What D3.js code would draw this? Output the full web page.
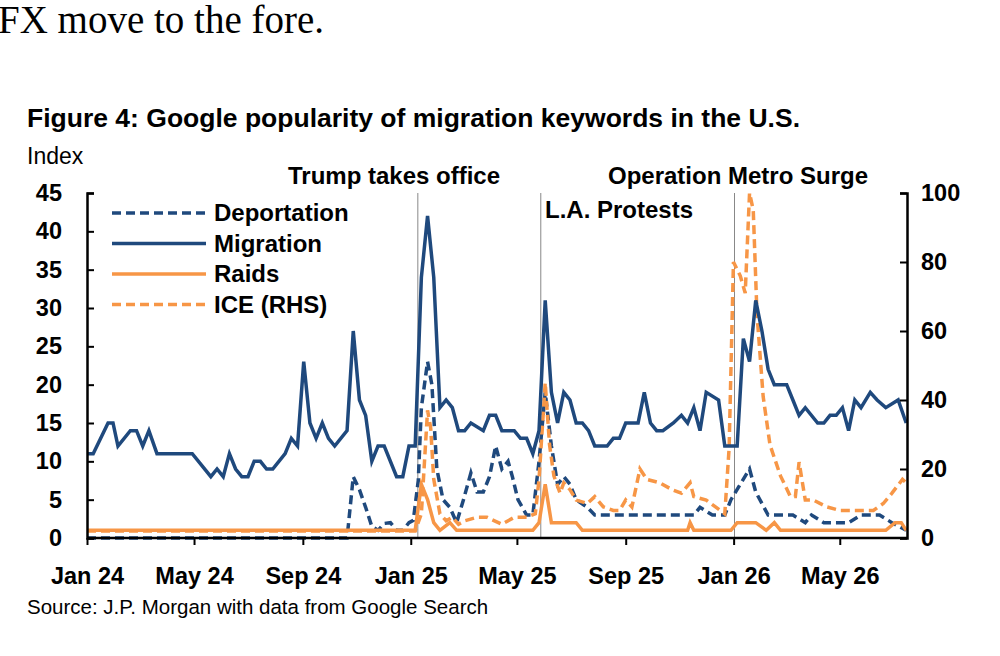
<!DOCTYPE html>
<html><head><meta charset="utf-8">
<script src="https://cdn.jsdelivr.net/npm/d3@7"></script>
<style>body{margin:0;background:#fff}svg{display:block}text{font-family:"Liberation Sans",Arial,sans-serif}</style>
</head><body><svg id="c" width="1000" height="656"></svg>
<script>
// Week index from 2024-01-01, value
const migrationW=[0,1,3.4,4.2,5,7,8,9,10,11.3,17,20,21,22,23,24,25,26,27,28,29,30,32,33,34,35,36,37,38,39,40,42,43,44,45,46,47,48,50,51,52,53,54,55,56,57,58,59,60,61,62,64,65,66,67,69,70,71,72,73,74,75,76,77,78,79,80,81,82,84,85,86,87,89,90,91,92,93,94.7,96,97,98,99,100,102,103,105,106,107,108,109,110,111,113,114,115,116,118,119,120,121,122,123,124,125,126.5,127.6,129,131,132.3];
const migrationV=[11,11,15,15,12,14,14,12,14,11,11,8,9,8,11,9,8,8,10,10,9,9,11,13,12,23,15,13,15,13,12,14,27,18,16,10,12,12,8,8,12,12,34,42,34,17,18,17,14,14,15,14,16,16,14,14,13,13,11,14,31,19,15,19,18,15,15,14,12,12,13,13,15,15,19,15,14,14,15,16,15,17,14,19,18,12,12,26,23,31,27,22,20,20,18,16,17,15,15,16,16,17,14,18,17,19,18,17,18,15,11];
const deportW=[0,42,43,44,45,46,47,48,49,50,51,52,52.7,53.5,54,55,55.7,56.5,57.5,58.6,59.7,60.8,62,63,64,65,66,67,68,68.7,69.6,71,72,73,74,75,76,77,78,79,80.8,82,98,99,101,103,104,107,108,110,114,116,117,119,123,125,128,130,132.3];
const deportV=[0,0,8,6.3,4,1.5,1,1.9,2,1,1,2,2.3,7.5,17,23,20,9,5,4,2,5,8.5,6,6,8,12,9,10,8,5,3,3,10,19,12,7,8,7,5,4,3,3,4,3,3,5,9,6,3,3,2,3,2,2,3,3,2,1];
const raidsW=[0,53,54,55,56,57,58.6,59.7,72,73,74,75,76,79,80,97,97.4,98,104,105,108,109.7,111,112,129,130.5,131.5,132.3];
const raidsV=[1,1,7,5,2,1,2,1,1,2,7,2,2,2,1,1,2,1,1,2,2,1,2,1,1,2,2,1];
const iceW=[0,53,54,55,55.5,56,57,58,59,60,61,63,64.6,67,69,71,72.4,73,74,74.7,75.4,76.4,77,78,79,80.8,82,83.4,85,86,87,88,89.3,90.4,92.5,94.5,96,97.4,98,100,101.5,103,103.7,104.4,105.5,106.3,107,107.6,108.2,109.2,110.3,112,113.6,114.4,115,116,117.3,119.5,121.6,123.7,127,128.6,130,131.7,132.3];
const iceV=[2,2,7,37,32,17,7,5,6,4,5,6,6,4,6,6,7,17,45,27,18,13,16,14,11,10,12,9,8,8,11,9,20,17,16,14,13,16,12,11,9,7,26,80,76,71,100,95,65,41,27,18,12,12,22,11,11,9,8,8,8,10,13,17,16];
const xTickLabels=["Jan 24","May 24","Sep 24","Jan 25","May 25","Sep 25","Jan 26","May 26"];
const xTickDates=["2024-01-01","2024-05-01","2024-09-01","2025-01-01","2025-05-01","2025-09-01","2026-01-01","2026-05-01"];
const leftTicks=[0,5,10,15,20,25,30,35,40,45];
const rightTicks=[0,20,40,60,80,100];
const events=[{d:"2025-01-09",label:"Trump takes office"},{d:"2025-05-28",label:"L.A. Protests"},{d:"2026-01-02",label:"Operation Metro Surge"}];

const NAVY="#1f497d",ORANGE="#f79646";
const svg=d3.select("#c");
const start=new Date(2024,0,1);
const wd=w=>new Date(start.getTime()+w*7*864e5);
const x=d3.scaleTime().domain([start,new Date(2026,6,16)]).range([87,907]);
const yL=d3.scaleLinear().domain([0,45]).range([538,193]);
const yR=d3.scaleLinear().domain([0,100]).range([538,193]);

svg.append("text").attr("x",-2).attr("y",33).style("font-family","'Liberation Serif',serif").style("font-size","39px").text("FX move to the fore.");
svg.append("text").attr("x",27).attr("y",127).style("font-weight","bold").style("font-size","26.5px").text("Figure 4: Google popularity of migration keywords in the U.S.");
svg.append("text").attr("x",27).attr("y",164).style("font-size","23px").text("Index");
svg.append("text").attr("x",27).attr("y",614).style("font-size","20.5px").text("Source: J.P. Morgan with data from Google Search");

events.forEach(e=>{const p=d3.timeParse("%Y-%m-%d")(e.d);
 svg.append("line").attr("x1",x(p)).attr("x2",x(p)).attr("y1",193).attr("y2",538).attr("stroke","#888").attr("stroke-width",1);});
const ann=[[394,184,"middle",0],[545,218,"start",1],[608,184,"start",2]];
ann.forEach(a=>svg.append("text").attr("x",a[0]).attr("y",a[1]).attr("text-anchor",a[2]).style("font-weight","bold").style("font-size","24px").text(events[a[3]].label));

const mk=(W,V,y)=>d3.line().x((d,i)=>x(wd(W[i]))).y((d,i)=>y(V[i]))(V);
svg.append("path").attr("d",mk(deportW,deportV,yL)).attr("fill","none").attr("stroke",NAVY).attr("stroke-width",3.5).attr("stroke-dasharray","9,5");
svg.append("path").attr("d",mk(raidsW,raidsV,yL)).attr("fill","none").attr("stroke",ORANGE).attr("stroke-width",3.5);
svg.append("path").attr("d",mk(iceW,iceV,yR)).attr("fill","none").attr("stroke",ORANGE).attr("stroke-width",3.5).attr("stroke-dasharray","9,5");
svg.append("path").attr("d",mk(migrationW,migrationV,yL)).attr("fill","none").attr("stroke",NAVY).attr("stroke-width",3.5);

const fs=g=>g.selectAll("text").style("font-weight","bold").style("font-size","23.5px").attr("fill","#000");
const la=svg.append("g").attr("transform","translate(87,0)").call(d3.axisLeft(yL).tickValues(leftTicks).tickSize(-7).tickPadding(25));
fs(la);
const ra=svg.append("g").attr("transform","translate(907,0)").call(d3.axisRight(yR).tickValues(rightTicks).tickSize(-7).tickPadding(14));
fs(ra);
const pd=d3.timeParse("%Y-%m-%d");
const xa=svg.append("g").attr("transform","translate(0,538)").call(d3.axisBottom(x).tickValues(xTickDates.map(pd)).tickFormat((d,i)=>xTickLabels[i]).tickSize(7).tickPadding(22));
fs(xa);
[la,ra,xa].forEach(g=>{g.select(".domain").attr("stroke","#000").attr("stroke-width",2.5);g.selectAll(".tick line").attr("stroke","#000").attr("stroke-width",2);});
xa.select(".domain").attr("d","M87,0H907");

const leg=[["Deportation",NAVY,"9,5"],["Migration",NAVY,null],["Raids",ORANGE,null],["ICE (RHS)",ORANGE,"9,5"]];
leg.forEach((l,i)=>{const yy=213+i*30.5;
 svg.append("line").attr("x1",112).attr("x2",206).attr("y1",yy).attr("y2",yy).attr("stroke",l[1]).attr("stroke-width",3.5).attr("stroke-dasharray",l[2]);
 svg.append("text").attr("x",214).attr("y",yy+8).style("font-weight","bold").style("font-size","24px").text(l[0]);});
</script></body></html>
